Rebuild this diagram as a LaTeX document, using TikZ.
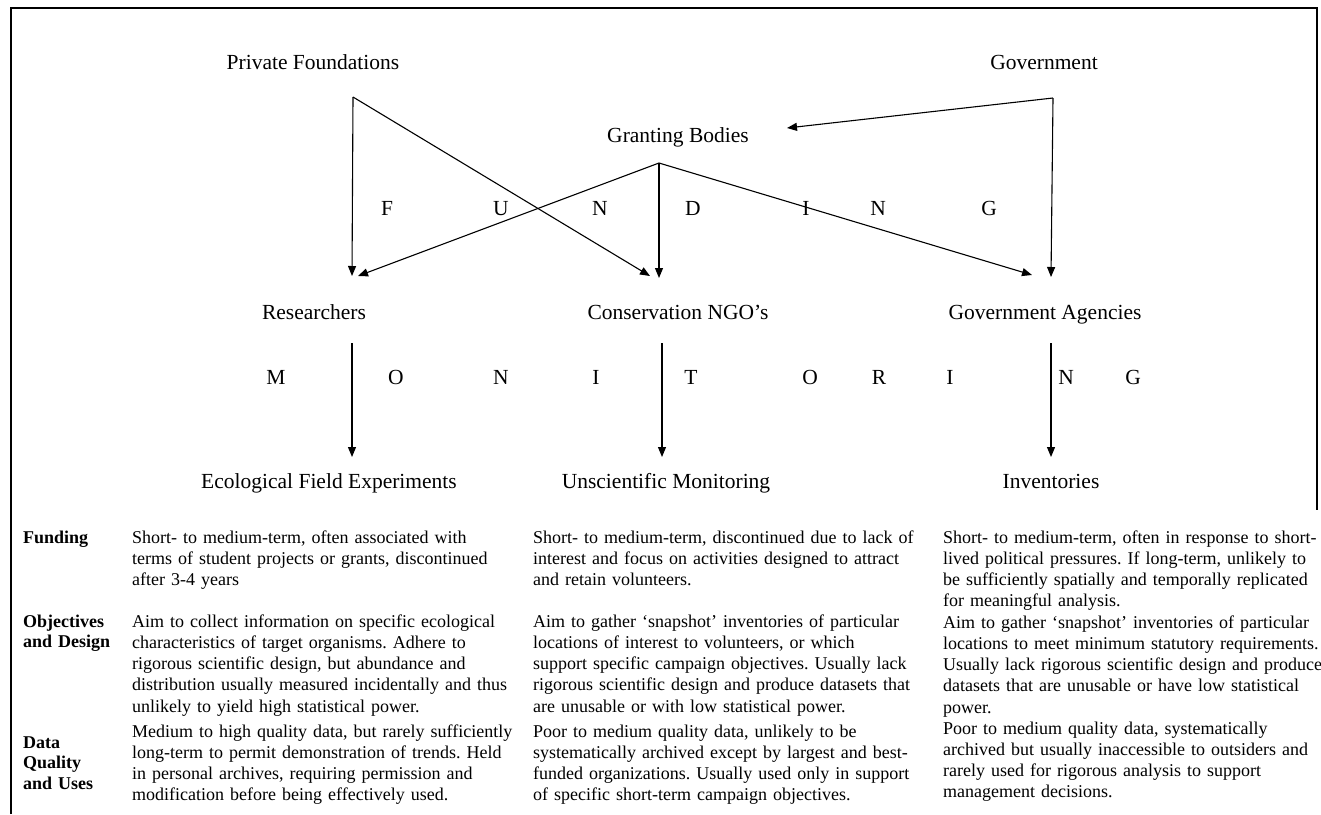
\documentclass[tikz,border=0pt]{standalone}
\usepackage{fontspec}
\setmainfont{Liberation Serif}
\usetikzlibrary{arrows.meta}
\frenchspacing
\tikzset{
    head/.style={font=\fontsize{21.5}{26}\selectfont, anchor=base, inner sep=0pt},
    letter/.style={head},
    cell/.style={font=\fontsize{18}{21.3}\selectfont, anchor=base west,
        inner sep=0pt, text width=400pt, align=left},
    rowhead/.style={cell, font=\fontsize{18}{20.5}\selectfont\bfseries, text width=100pt},
    flow/.style={line width=1.1pt, -{Triangle[length=10pt,width=8pt]}},
}
\begin{document}
\begin{tikzpicture}[x=1pt, y=-1pt]
    \useasboundingbox (0,0) rectangle (1321,814);
    \draw[line width=2.5pt]
        (11,814) -- (11,8) -- (1317,8) -- (1317,510);
    % sources and actors
    \node[head] (pf)     at (313,69)  {Private Foundations};
    \node[head] (gov)    at (1044,69) {Government};
    \node[head] (gb)     at (678,142) {Granting Bodies};
    \node[head] (res)    at (314,319) {Researchers};
    \node[head] (ngo)    at (678,319) {Conservation NGO’s};
    \node[head] (agency) at (1045,319) {Government Agencies};
    \node[head] (exp)    at (329,488) {Ecological Field Experiments};
    \node[head] (unsci)  at (666,488) {Unscientific Monitoring};
    \node[head] (inv)    at (1051,488) {Inventories};
    % ends of the connectors
    \coordinate (pfout)  at (353,97);
    \coordinate (govout) at (1053,98);
    \coordinate (gbout)  at (659,163);
    \coordinate (gbin)   at (787,128);
    \coordinate (resa)   at (352,276);
    \coordinate (resb)   at (358,276);
    \coordinate (ngoa)   at (650,276);
    \coordinate (ngob)   at (659,278);
    \coordinate (agya)   at (1032,275);
    \coordinate (agyb)   at (1051,277);
    \coordinate (resout) at (352,343);
    \coordinate (ngoout) at (662,343);
    \coordinate (agyout) at (1051,343);
    \coordinate (expin)  at (352,457);
    \coordinate (unsin)  at (662,457);
    \coordinate (invin)  at (1051,457);
    % funding
    \draw[flow] (pfout) -- (resa);
    \draw[flow] (pfout) -- (ngoa);
    \draw[flow] (govout) -- (gbin);
    \draw[flow] (govout) -- (agyb);
    \draw[flow] (gbout) -- (resb);
    \draw[flow] (gbout) -- (ngob);
    \draw[flow] (gbout) -- (agya);
    % monitoring
    \draw[flow] (resout) -- (expin);
    \draw[flow] (ngoout) -- (unsin);
    \draw[flow] (agyout) -- (invin);
    \foreach \x/\l [count=\i] in {387/F, 501/U, 600/N, 693/D, 806/I, 878/N, 989/G}
        \node[letter] (fund\i) at (\x,215) {\l};
    \foreach \x/\l [count=\i] in {276/M, 396/O, 501/N, 596/I, 691/T, 810/O, 879/R, 950/I, 1066/N, 1133/G}
        \node[letter] (mon\i) at (\x,384) {\l};
    % table
    \node[rowhead] (hfund) at (23,543) {Funding};
    \node[rowhead] (hobj)  at (23,627) {Objectives\\and Design};
    \node[rowhead] (hdata) at (23,748) {Data\\Quality\\and Uses};
    \node[cell] (fund1) at (132,543) {Short- to medium-term, often associated with\\
        terms of student projects or grants, discontinued\\
        after 3-4 years};
    \node[cell] (obj1) at (132,627) {Aim to collect information on specific ecological\\
        characteristics of target organisms. Adhere to\\
        rigorous scientific design, but abundance and\\
        distribution usually measured incidentally and thus\\
        unlikely to yield high statistical power.};
    \node[cell] (data1) at (132,737) {Medium to high quality data, but rarely sufficiently\\
        long-term to permit demonstration of trends. Held\\
        in personal archives, requiring permission and\\
        modification before being effectively used.};
    \node[cell] (fund2) at (533,543) {Short- to medium-term, discontinued due to lack of\\
        interest and focus on activities designed to attract\\
        and retain volunteers.};
    \node[cell] (obj2) at (533,627) {Aim to gather ‘snapshot’ inventories of particular\\
        locations of interest to volunteers, or which\\
        support specific campaign objectives. Usually lack\\
        rigorous scientific design and produce datasets that\\
        are unusable or with low statistical power.};
    \node[cell] (data2) at (533,737) {Poor to medium quality data, unlikely to be\\
        systematically archived except by largest and best-\\
        funded organizations. Usually used only in support\\
        of specific short-term campaign objectives.};
    \node[cell] (fund3) at (943,543) {Short- to medium-term, often in response to short-\\
        lived political pressures. If long-term, unlikely to\\
        be sufficiently spatially and temporally replicated\\
        for meaningful analysis.};
    \node[cell] (obj3) at (943,628) {Aim to gather ‘snapshot’ inventories of particular\\
        locations to meet minimum statutory requirements.\\
        Usually lack rigorous scientific design and produce\\
        datasets that are unusable or have low statistical\\
        power.};
    \node[cell] (data3) at (943,734) {Poor to medium quality data, systematically\\
        archived but usually inaccessible to outsiders and\\
        rarely used for rigorous analysis to support\\
        management decisions.};
\end{tikzpicture}
\end{document}
